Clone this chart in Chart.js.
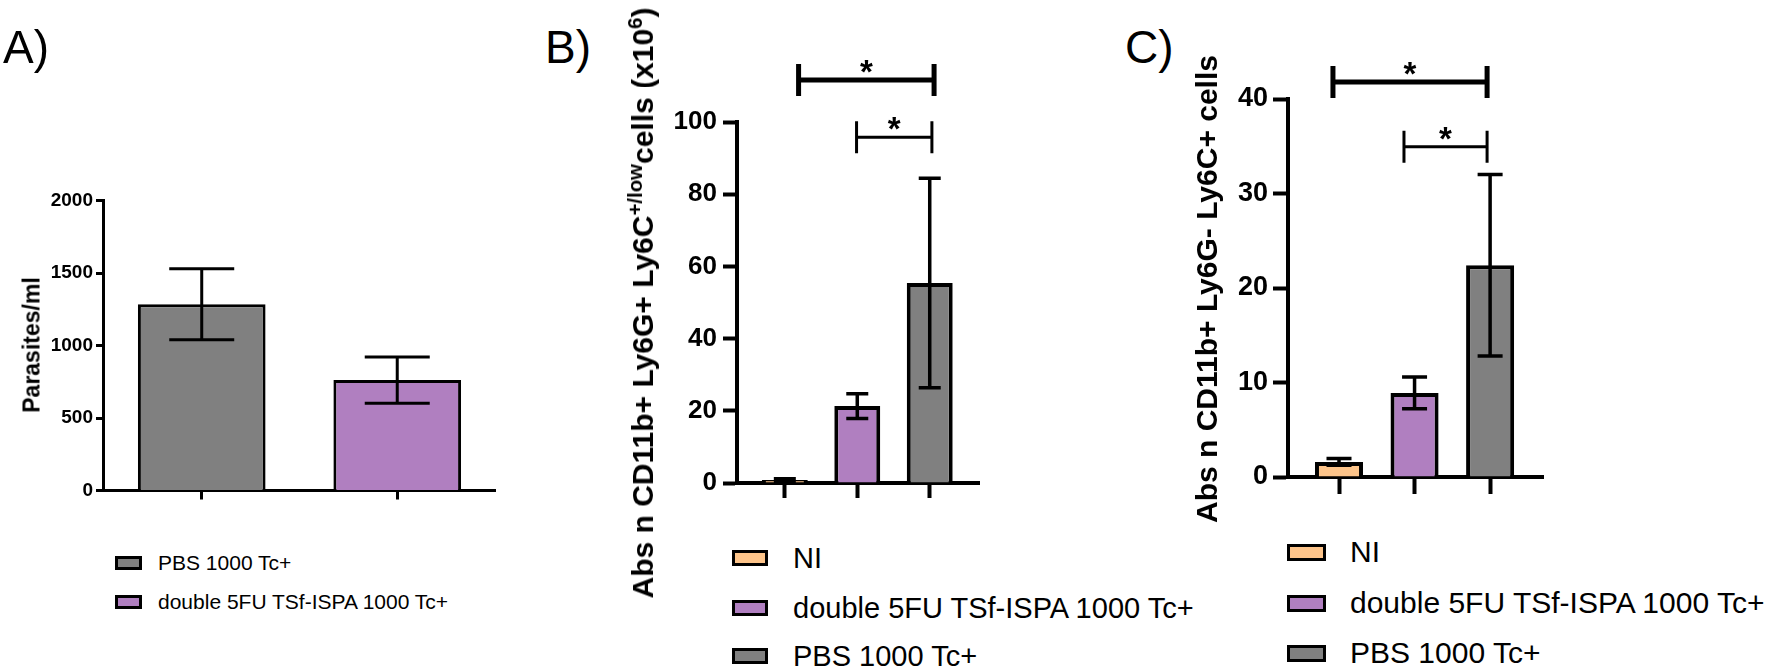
<!DOCTYPE html>
<html>
<head>
<meta charset="utf-8">
<script src="https://cdn.jsdelivr.net/npm/chart.js@4.4.0/dist/chart.umd.min.js"></script>
<style>
  html, body { margin: 0; padding: 0; background: #fff; }
  body { width: 1786px; height: 671px; position: relative; overflow: hidden;
         font-family: "Liberation Sans", Arial, sans-serif; color: #000; }
  .panel { position: absolute; top: 0; }
  .tag { position: absolute; top: 24px; font-size: 46px; line-height: 46px; z-index: 2; }
  .ytitle { position: absolute; font-weight: bold; white-space: nowrap; line-height: 1;
            transform: translate(-50%, -50%) rotate(-90deg); z-index: 2; }
  .item { position: absolute; display: flex; align-items: center; white-space: nowrap; z-index: 2; }
  .swatch { box-sizing: border-box; border: 3px solid #000; flex: none; }
  sup { font-size: 0.68em; line-height: 0; vertical-align: 0.55em; }
</style>
</head>
<body>

<div class="tag" style="left:3px">A)</div>
<div class="tag" style="left:545px">B)</div>
<div class="tag" style="left:1125px">C)</div>

<div class="ytitle" style="left:32px; top:345px; font-size:23px">Parasites/ml</div>
<div class="ytitle" style="left:643px; top:303px; font-size:30px">Abs n CD11b+ Ly6G+ Ly6C<sup>+/low</sup>cells (x10<sup>6</sup>)</div>
<div class="ytitle" style="left:1207px; top:289px; font-size:30px">Abs n CD11b+ Ly6G- Ly6C+ cells</div>

<div class="panel" style="left:0px"><canvas id="chartA" width="520" height="520"></canvas></div>
<div class="panel" style="left:650px"><canvas id="chartB" width="360" height="520"></canvas></div>
<div class="panel" style="left:1200px"><canvas id="chartC" width="370" height="520"></canvas></div>

<script>
// Data
const aLabels = ['PBS 1000 Tc+', 'double 5FU TSf-ISPA 1000 Tc+'];
const aMeans = [1285, 762];
const aErrs = [245, 160];

const bLabels = ['NI', 'double 5FU TSf-ISPA 1000 Tc+', 'PBS 1000 Tc+'];
const bMeans = [0.8, 21.3, 55.4];
const bErrs = [0.4, 3.45, 29];
// significance brackets: [from, to, height]
const bSig = [[0.19, 2.06, 111.6], [0.99, 2.03, 95.8]];

const cLabels = ['NI', 'double 5FU TSf-ISPA 1000 Tc+', 'PBS 1000 Tc+'];
const cMeans = [1.6, 8.9, 22.4];
const cErrs = [0.35, 1.67, 9.6];
const cSig = [[-0.08, 1.96, 41.8], [0.86, 1.96, 34.95]];

const GREY = '#808080';
const PURPLE = '#b07fc0';
const ORANGE = '#fdc48a';
const FONT = '"Liberation Sans", Arial, sans-serif';

function barChart(id, p) {
    const errorBars = {
        id: 'errorBars',
        afterDatasetsDraw(chart) {
            const ctx = chart.ctx;
            const y = chart.scales.y;
            const meta = chart.getDatasetMeta(0);
            ctx.save();
            ctx.strokeStyle = '#000';
            ctx.lineWidth = p.errLine;
            p.errs.forEach((e, i) => {
                const cx = meta.data[i].x;
                const hi = y.getPixelForValue(p.means[i] + e);
                const lo = y.getPixelForValue(p.means[i] - e);
                ctx.beginPath();
                ctx.moveTo(cx, hi); ctx.lineTo(cx, lo);
                ctx.moveTo(cx - p.cap / 2, hi); ctx.lineTo(cx + p.cap / 2, hi);
                ctx.moveTo(cx - p.cap / 2, lo); ctx.lineTo(cx + p.cap / 2, lo);
                ctx.stroke();
            });
            ctx.restore();
        }
    };

    const brackets = {
        id: 'brackets',
        afterDraw(chart) {
            if (!p.sig) return;
            const ctx = chart.ctx;
            const { x, y } = chart.scales;
            ctx.save();
            ctx.strokeStyle = '#000';
            ctx.fillStyle = '#000';
            p.sig.forEach((b, k) => {
                const x1 = x.getPixelForValue(b[0]);
                const x2 = x.getPixelForValue(b[1]);
                const py = y.getPixelForValue(b[2]);
                ctx.lineWidth = k === 0 ? 5 : 3;
                ctx.beginPath();
                ctx.moveTo(x1, py); ctx.lineTo(x2, py);
                ctx.moveTo(x1, py - 16); ctx.lineTo(x1, py + 16);
                ctx.moveTo(x2, py - 16); ctx.lineTo(x2, py + 16);
                ctx.stroke();
                ctx.font = 'bold 33px ' + FONT;
                ctx.textAlign = 'center';
                ctx.textBaseline = 'alphabetic';
                ctx.fillText('*', (x1 + x2) / 2, py + 3);
            });
            ctx.restore();
        }
    };

    return new Chart(document.getElementById(id), {
        type: 'bar',
        data: {
            labels: p.labels,
            datasets: [{
                data: p.means.map((v, i) => ({ x: i, y: v })),
                backgroundColor: p.colors,
                borderColor: '#000',
                borderWidth: p.line,
                barPercentage: p.barPct,
                categoryPercentage: 1
            }]
        },
        options: {
            responsive: false,
            animation: false,
            layout: { padding: { top: p.top, right: p.right, left: 0, bottom: 0 } },
            plugins: { legend: { display: false }, tooltip: { enabled: false } },
            scales: {
                x: {
                    type: 'linear',
                    min: p.xMin,
                    max: p.xMax,
                    offset: false,
                    afterBuildTicks: s => { s.ticks = p.labels.map((l, i) => ({ value: i })); },
                    afterFit: s => { s.height = p.xH; },
                    ticks: { callback: () => '' },
                    grid: { offset: false, drawOnChartArea: false, drawTicks: true,
                            tickLength: p.xTick, tickWidth: p.line, tickColor: '#000' },
                    border: { display: true, color: '#000', width: p.line }
                },
                y: {
                    min: 0,
                    max: p.yMax,
                    afterFit: s => { s.width = p.yW; },
                    ticks: { stepSize: p.yStep, color: '#000', padding: p.pad,
                             callback: v => String(v),
                             font: { family: FONT, size: p.tickFont, weight: 'bold' } },
                    grid: { drawOnChartArea: false, drawTicks: true,
                            tickLength: p.yTick, tickWidth: p.line, tickColor: '#000' },
                    border: { display: true, color: '#000', width: p.line }
                }
            }
        },
        plugins: [errorBars, brackets]
    });
}

function legend(labels, colors, o) {
    labels.forEach((label, i) => {
        const row = document.createElement('div');
        row.className = 'item';
        row.style.left = o.left + 'px';
        row.style.top = (o.rows[i] - 20) + 'px';
        row.style.height = '40px';
        row.style.fontSize = o.font + 'px';
        const sw = document.createElement('div');
        sw.className = 'swatch';
        sw.style.width = o.bw + 'px';
        sw.style.height = o.bh + 'px';
        sw.style.background = colors[i];
        const txt = document.createElement('span');
        txt.textContent = label;
        txt.style.marginLeft = (o.textLeft - o.left - o.bw) + 'px';
        row.appendChild(sw);
        row.appendChild(txt);
        document.body.appendChild(row);
    });
}

document.addEventListener('DOMContentLoaded', function() {
    const aColors = [GREY, PURPLE];
    const bColors = [ORANGE, PURPLE, GREY];

    barChart('chartA', {
        labels: aLabels, means: aMeans, errs: aErrs, colors: aColors,
        xMin: -0.505, xMax: 1.5, yMax: 2000, yStep: 500,
        top: 200.7, right: 25, yW: 103, xH: 29.5,
        line: 3, errLine: 3, cap: 65, barPct: 0.653,
        tickFont: 19, pad: 3, yTick: 7, xTick: 9
    });

    barChart('chartB', {
        labels: bLabels, means: bMeans, errs: bErrs, colors: bColors, sig: bSig,
        xMin: -0.66, xMax: 2.68, yMax: 100, yStep: 20,
        top: 122, right: 31, yW: 87, xH: 37,
        line: 4, errLine: 3.5, cap: 22, barPct: 0.634,
        tickFont: 26, pad: 6, yTick: 14, xTick: 15
    });

    barChart('chartC', {
        labels: cLabels, means: cMeans, errs: cErrs, colors: bColors, sig: cSig,
        xMin: -0.675, xMax: 2.7, yMax: 40, yStep: 10,
        top: 99, right: 27, yW: 88, xH: 43,
        line: 4, errLine: 3.5, cap: 25, barPct: 0.636,
        tickFont: 27, pad: 5, yTick: 15, xTick: 17
    });

    legend(aLabels, aColors, { left: 115, textLeft: 158, bw: 27, bh: 14, font: 21, rows: [563, 602] });
    legend(bLabels, bColors, { left: 732, textLeft: 793, bw: 36, bh: 16, font: 29, rows: [558, 608, 656] });
    legend(cLabels, bColors, { left: 1287, textLeft: 1350, bw: 39, bh: 17, font: 30, rows: [552, 603, 653] });
});
</script>
</body>
</html>
